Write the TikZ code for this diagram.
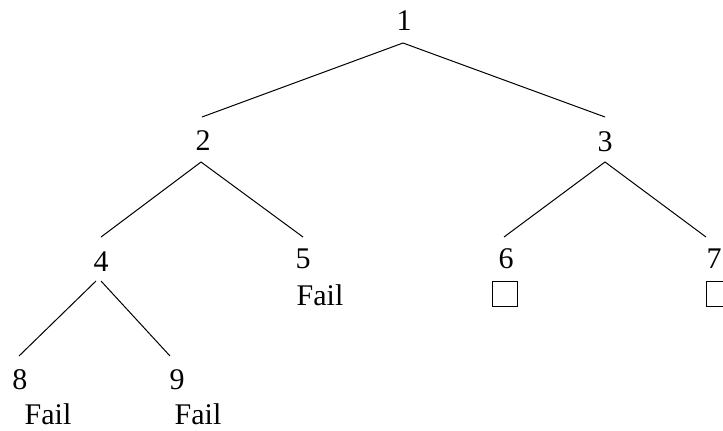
\documentclass[tikz,border=0pt]{standalone}
\usepackage{fontspec}
\setmainfont{Liberation Serif}
\begin{document}
\begin{tikzpicture}[x=1pt,y=-1pt,
  lab/.style={inner sep=0pt,font=\fontsize{30}{36}\selectfont},
  box/.style={draw,line width=1pt,minimum size=25pt,inner sep=0pt},
  edge/.style={line width=1pt}]
\useasboundingbox (0,0) rectangle (723,431);
\node[lab] (n1) at (404,21) {1};
\node[lab] (n2) at (203,141) {2};
\node[lab] (n3) at (605,142) {3};
\node[lab] (n4) at (101,262) {4};
\node[lab] (n5) at (303,259) {5};
\node[lab] (n6) at (506,259) {6};
\node[lab] (n7) at (714,259) {7};
\node[lab] (n8) at (20,380) {8};
\node[lab] (n9) at (177,380) {9};
\node[lab] (f5) at (320,295) {Fail};
\node[lab] (f8) at (48,414) {Fail};
\node[lab] (f9) at (198,414) {Fail};
\node[box] (s6) at (504.5,293.5) {};
\node[box] (s7) at (718.5,293.5) {};
\draw[edge] ([xshift=-1pt,yshift=-22pt]n1.center) -- ([xshift=-1pt,yshift=24pt]n2.center);
\draw[edge] ([xshift=-1pt,yshift=-22pt]n1.center) -- ([yshift=25pt]n3.center);
\draw[edge] ([xshift=-2pt,yshift=-21pt]n2.center) -- ([yshift=25pt]n4.center);
\draw[edge] ([xshift=-2pt,yshift=-21pt]n2.center) -- ([yshift=22pt]n5.center);
\draw[edge] ([yshift=-20pt]n3.center) -- ([xshift=-2pt,yshift=22pt]n6.center);
\draw[edge] ([yshift=-20pt]n3.center) -- ([xshift=-8pt,yshift=22pt]n7.center);
\draw[edge] ([xshift=-5pt,yshift=-19pt]n4.center) -- ([xshift=-1pt,yshift=24pt]n8.center);
\draw[edge] ([yshift=-19pt]n4.center) -- ([xshift=-7pt,yshift=24pt]n9.center);
\end{tikzpicture}
\end{document}
